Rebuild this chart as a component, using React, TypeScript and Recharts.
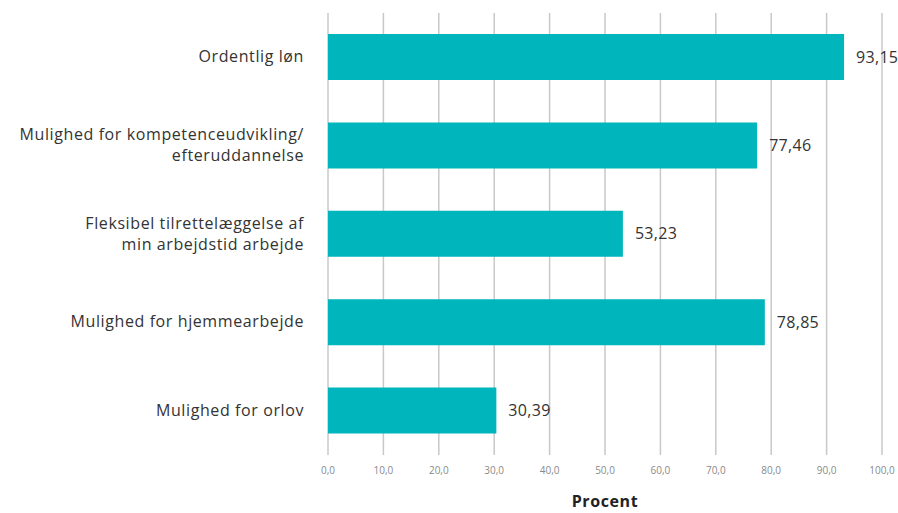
import { BarChart, Bar, XAxis, YAxis, CartesianGrid, LabelList } from 'recharts'

const CATEGORIES = [
  ['Ordentlig løn'],
  ['Mulighed for kompetenceudvikling/', 'efteruddannelse'],
  ['Fleksibel tilrettelæggelse af', 'min arbejdstid arbejde'],
  ['Mulighed for hjemmearbejde'],
  ['Mulighed for orlov'],
]
const VALUES = [93.15, 77.46, 53.23, 78.85, 30.39]
const X_TICKS = [0, 10, 20, 30, 40, 50, 60, 70, 80, 90, 100]

const data = CATEGORIES.map((lines, i) => ({ name: lines.join('|'), value: VALUES[i] }))

const FONT = "'Open Sans', sans-serif"
const comma = (v: number, d: number) => v.toFixed(d).replace('.', ',')

const CategoryTick = ({ x, y, payload }: any) => {
  const lines: string[] = String(payload.value).split('|')
  const lh = 21
  const start = -((lines.length - 1) * lh) / 2
  return (
    <text x={x} y={y} textAnchor="end" fill="#333" fontSize={16} letterSpacing={0.6} fontFamily={FONT}>
      {lines.map((l, i) => (
        <tspan key={i} x={x} dy={i === 0 ? start + 5 : lh}>
          {l}
        </tspan>
      ))}
    </text>
  )
}

export default function App() {
  return (
    <div style={{ position: 'absolute', left: 0, top: 0, background: '#fff' }}>
      <BarChart
        width={898}
        height={513}
        data={data}
        layout="vertical"
        margin={{ top: 13, right: 16, bottom: 0, left: 0 }}
      >
        <CartesianGrid horizontal={false} stroke="#c8c8c8" strokeWidth={1.5} />
        <XAxis
          type="number"
          domain={[0, 100]}
          ticks={X_TICKS}
          interval={0}
          tickFormatter={(v) => comma(v, 1)}
          axisLine={false}
          tickLine={false}
          tick={{ fontSize: 10, fill: '#8a8a8a', fontFamily: FONT }}
          tickMargin={6}
          height={58}
          label={{
            value: 'Procent',
            position: 'insideBottom',
            offset: 6,
            fill: '#222',
            fontSize: 16,
            fontWeight: 700,
            letterSpacing: 0.6,
            fontFamily: FONT,
          }}
        />
        <YAxis
          type="category"
          dataKey="name"
          width={328}
          axisLine={false}
          tickLine={false}
          tickMargin={18}
          tick={<CategoryTick />}
        />
        <Bar dataKey="value" fill="#00b5bc" barSize={46} isAnimationActive={false}>
          <LabelList
            dataKey="value"
            position="right"
            offset={12}
            formatter={(v: any) => comma(Number(v), 2)}
            style={{ fill: '#333', fontSize: 16, letterSpacing: 0.3, fontFamily: FONT }}
          />
        </Bar>
      </BarChart>
    </div>
  )
}
